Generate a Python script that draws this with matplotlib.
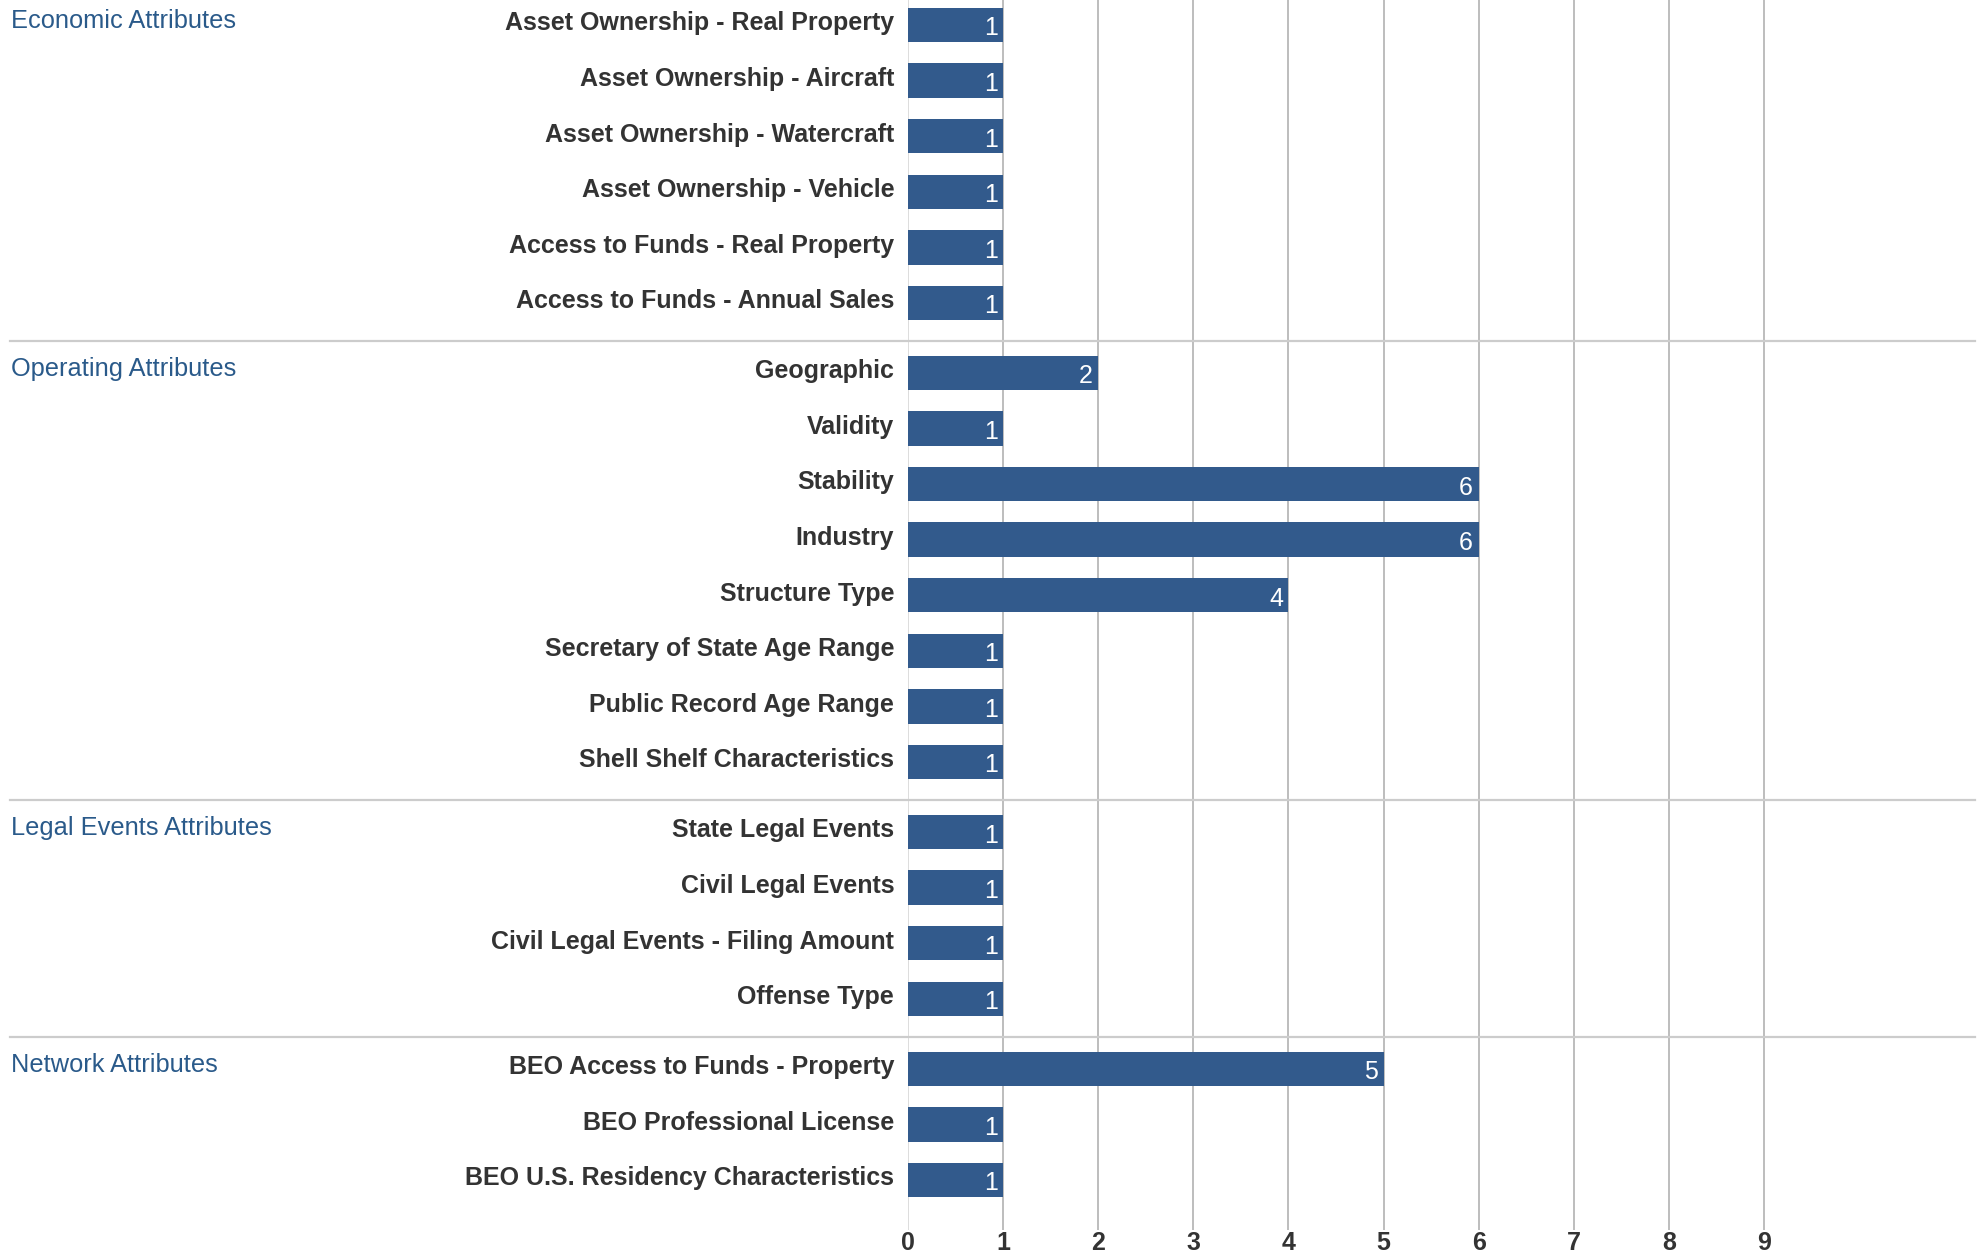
import matplotlib
matplotlib.use("Agg")
import matplotlib.pyplot as plt
import matplotlib.transforms as mtransforms
from matplotlib.lines import Line2D

plt.rcParams['font.family'] = ['Liberation Sans', 'DejaVu Sans']

# data
groups = ['Economic Attributes', 'Operating Attributes', 'Legal Events Attributes', 'Network Attributes']
economic_labels = ['Asset Ownership - Real Property', 'Asset Ownership - Aircraft',
                   'Asset Ownership - Watercraft', 'Asset Ownership - Vehicle',
                   'Access to Funds - Real Property', 'Access to Funds - Annual Sales']
economic_values = [1, 1, 1, 1, 1, 1]
operating_labels = ['Geographic', 'Validity', 'Stability', 'Industry', 'Structure Type',
                    'Secretary of State Age Range', 'Public Record Age Range',
                    'Shell Shelf Characteristics']
operating_values = [2, 1, 6, 6, 4, 1, 1, 1]
legal_labels = ['State Legal Events', 'Civil Legal Events',
                'Civil Legal Events - Filing Amount', 'Offense Type']
legal_values = [1, 1, 1, 1]
network_labels = ['BEO Access to Funds - Property', 'BEO Professional License',
                  'BEO U.S. Residency Characteristics']
network_values = [5, 1, 1]
x_ticks = list(range(10))

group_labels = [economic_labels, operating_labels, legal_labels, network_labels]
group_values = [economic_values, operating_values, legal_values, network_values]

BAR = '#325a8c'
GAP = 0.26

fig = plt.figure(figsize=(19.81, 12.56), dpi=100)
ax = fig.add_axes([0.4584, 0.0207, 0.5386, 0.9793])

ypos, labels, values = [], [], []
group_start, separators = [], []
pos = 0.0
for g, (labs, vals) in enumerate(zip(group_labels, group_values)):
    if g > 0:
        separators.append(pos - 0.5 + GAP / 2 + 0.05)
        pos += GAP
    group_start.append(pos)
    for lab, v in zip(labs, vals):
        ypos.append(pos)
        labels.append(lab)
        values.append(v)
        pos += 1

ax.barh(ypos, values, height=0.62, color=BAR, zorder=3)
for y, v in zip(ypos, values):
    ax.annotate(str(v), (v, y), xytext=(-4, -2.5), textcoords='offset points',
                ha='right', va='center', color='white', fontsize=18, zorder=4)

ax.set_xlim(0, 11.22)
ax.set_ylim(ypos[-1] + 0.9, -0.45)
ax.set_xticks(x_ticks)
ax.set_xticklabels([str(t) for t in x_ticks], fontsize=18, fontweight='bold', color='#333333')
ax.set_yticks(ypos)
ax.set_yticklabels(labels, fontsize=18, fontweight='bold', color='#333333')
ax.tick_params(axis='both', length=0)
ax.tick_params(axis='x', pad=1)
ax.tick_params(axis='y', pad=10)
shift = mtransforms.ScaledTranslation(0, 3 / 72, fig.dpi_scale_trans)
for lbl in ax.get_yticklabels():
    lbl.set_transform(lbl.get_transform() + shift)
for s in ax.spines.values():
    s.set_visible(False)
for t in x_ticks:
    ax.axvline(t, color='#dddddd' if t == 0 else '#bdbdbd', lw=1.4, zorder=1)

# group headers
trans = mtransforms.blended_transform_factory(fig.transFigure, ax.transData)
for name, y in zip(groups, group_start):
    ax.text(11 / 1981, y, name, transform=trans + shift, ha='left', va='center',
            fontsize=18.3, color='#2a5a8a')

# separators spanning label area and plot
for y in separators:
    fig.add_artist(Line2D([10 / 1981, 1975 / 1981], [y, y], transform=trans,
                          color='#cccccc', lw=1.6, zorder=5))

fig.savefig('out.png', dpi=100)
